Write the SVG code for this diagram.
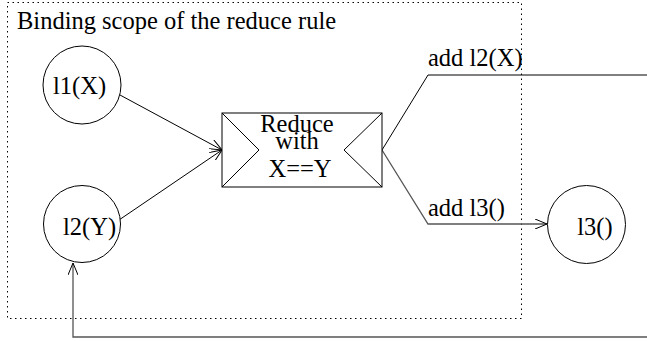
<svg xmlns="http://www.w3.org/2000/svg" width="647" height="341" viewBox="0 0 647 341">
<defs>
<marker id="arr" viewBox="0 0 12 10" refX="12" refY="5" markerWidth="12" markerHeight="10" markerUnits="userSpaceOnUse" orient="auto">
<path d="M0,0 L12,5 L0,10" fill="none" stroke="#000" stroke-width="1"/>
</marker>
</defs>
<style>
text{font-family:"Liberation Serif","Times New Roman",serif;fill:#000;}
.lbl{font-size:24.5px;}
.node{fill:#fff;stroke:#000;stroke-width:1;}
.conn{fill:none;stroke:#000;stroke-width:1;}
.gray{stroke:#555;stroke-width:1.3;}
.scope{fill:none;stroke:#000;stroke-width:1;stroke-dasharray:1.5,3.5;}
</style>
<rect width="647" height="341" fill="#fff"/>
<g id="scope">
<rect class="scope" x="7.5" y="2.5" width="514" height="316"/>
<text class="lbl" x="17" y="29">Binding scope of the reduce rule</text>
</g>
<g id="connectors">
<line class="conn" x1="120" y1="95" x2="222" y2="150" marker-end="url(#arr)"/>
<line class="conn" x1="119" y1="220" x2="222" y2="150" marker-end="url(#arr)"/>
<polyline class="conn" points="382,150 428,75 647,75"/>
<polyline class="conn gray" points="382,150 428,224 547,224" marker-end="url(#arr)"/>
<polyline class="conn gray" points="647,337 73,337 73,263" marker-end="url(#arr)"/>
<text class="lbl" x="428" y="66">add l2(X)</text>
<text class="lbl" x="428" y="216">add l3()</text>
</g>
<g id="l1">
<circle class="node" cx="82" cy="85" r="39"/>
<text class="lbl" x="53" y="94">l1(X)</text>
</g>
<g id="l2">
<circle class="node" cx="82" cy="224" r="38.5"/>
<text class="lbl" x="63" y="235">l2(Y)</text>
</g>
<g id="l3">
<circle class="node" cx="586.5" cy="224.5" r="39"/>
<text class="lbl" x="595" y="235" text-anchor="middle">l3()</text>
</g>
<g id="reduce">
<rect class="node" x="222" y="113" width="160" height="74"/>
<polyline class="conn" points="222,113 259,150 222,187"/>
<polyline class="conn" points="382,113 344,150 382,187"/>
<text class="lbl" x="297" y="132" text-anchor="middle">Reduce</text>
<text class="lbl" x="297" y="149" text-anchor="middle">with</text>
<text class="lbl" x="300" y="177" text-anchor="middle">X==Y</text>
</g>
</svg>
